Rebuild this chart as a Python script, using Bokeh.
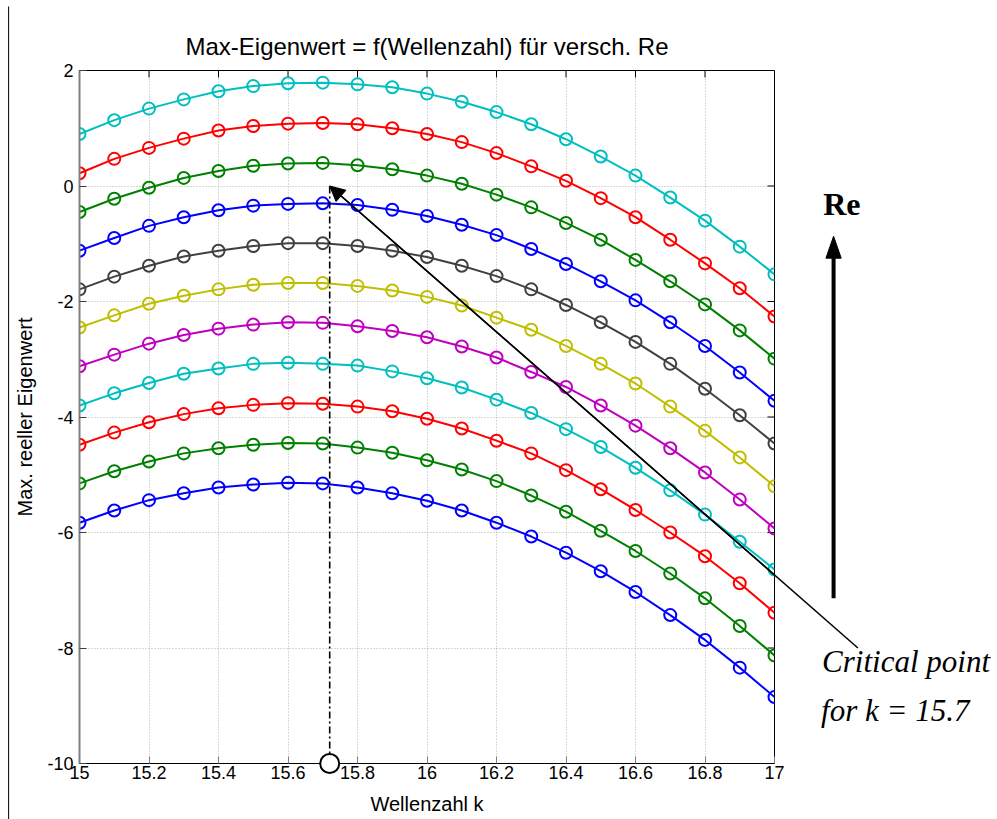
import math
from bokeh.plotting import figure
from bokeh.models import Arrow, NormalHead, FixedTicker, Range1d
from bokeh.core.properties import value
from bokeh.embed import file_html
from bokeh.resources import INLINE

# ---------------- data ----------------
k = [15.0, 15.1, 15.2, 15.3, 15.4, 15.5, 15.6, 15.7, 15.8, 15.9, 16.0,
     16.1, 16.2, 16.3, 16.4, 16.5, 16.6, 16.7, 16.8, 16.9, 17.0]

# max. real eigenvalue per Re (lowest Re first)
eig_1 = [-5.83, -5.62, -5.44, -5.32, -5.22, -5.17, -5.14, -5.15, -5.22, -5.32, -5.45,
         -5.62, -5.83, -6.07, -6.35, -6.67, -7.03, -7.43, -7.86, -8.34, -8.85]
eig_2 = [-5.15, -4.94, -4.77, -4.63, -4.54, -4.48, -4.45, -4.46, -4.53, -4.62, -4.75,
         -4.91, -5.11, -5.36, -5.64, -5.97, -6.32, -6.71, -7.14, -7.62, -8.13]
eig_3 = [-4.48, -4.27, -4.09, -3.95, -3.85, -3.79, -3.76, -3.77, -3.82, -3.90, -4.03,
         -4.20, -4.41, -4.63, -4.92, -5.25, -5.61, -6.00, -6.41, -6.88, -7.39]
eig_4 = [-3.80, -3.59, -3.41, -3.25, -3.16, -3.08, -3.06, -3.08, -3.11, -3.21, -3.33,
         -3.49, -3.70, -3.93, -4.21, -4.52, -4.88, -5.27, -5.69, -6.16, -6.64]
eig_5 = [-3.12, -2.92, -2.73, -2.58, -2.47, -2.40, -2.36, -2.37, -2.43, -2.51, -2.62,
         -2.78, -2.97, -3.22, -3.48, -3.80, -4.15, -4.54, -4.96, -5.43, -5.93]
eig_6 = [-2.45, -2.24, -2.04, -1.90, -1.79, -1.71, -1.68, -1.68, -1.73, -1.81, -1.92,
         -2.07, -2.28, -2.49, -2.77, -3.08, -3.42, -3.82, -4.24, -4.70, -5.20]
eig_7 = [-1.79, -1.57, -1.38, -1.22, -1.12, -1.04, -0.99, -0.99, -1.04, -1.12, -1.23,
         -1.38, -1.56, -1.79, -2.06, -2.36, -2.70, -3.08, -3.51, -3.97, -4.46]
eig_8 = [-1.12, -0.90, -0.69, -0.54, -0.42, -0.34, -0.31, -0.30, -0.33, -0.41, -0.52,
         -0.67, -0.85, -1.09, -1.35, -1.65, -1.98, -2.36, -2.77, -3.23, -3.72]
eig_9 = [-0.45, -0.22, -0.03, 0.14, 0.26, 0.35, 0.39, 0.40, 0.36, 0.29, 0.18,
         0.04, -0.15, -0.37, -0.64, -0.93, -1.28, -1.65, -2.05, -2.50, -2.99]
eig_10 = [0.22, 0.47, 0.66, 0.82, 0.96, 1.04, 1.08, 1.09, 1.07, 1.00, 0.90,
          0.76, 0.57, 0.34, 0.09, -0.21, -0.54, -0.93, -1.34, -1.77, -2.26]
eig_11 = [0.90, 1.14, 1.34, 1.50, 1.64, 1.73, 1.78, 1.79, 1.76, 1.71, 1.60,
          1.46, 1.28, 1.07, 0.81, 0.51, 0.18, -0.20, -0.60, -1.05, -1.53]

series = [eig_1, eig_2, eig_3, eig_4, eig_5, eig_6, eig_7, eig_8, eig_9, eig_10, eig_11]
colors = ["#0000ff", "#008000", "#ff0000", "#00bfbf", "#bf00bf", "#bfbf00", "#404040",
          "#0000ff", "#008000", "#ff0000", "#00bfbf"]

x_ticks = [15, 15.2, 15.4, 15.6, 15.8, 16, 16.2, 16.4, 16.6, 16.8, 17]
x_tick_labels = ["15", "15.2", "15.4", "15.6", "15.8", "16", "16.2", "16.4", "16.6", "16.8", "17"]
y_ticks = [-10, -8, -6, -4, -2, 0, 2]
y_tick_labels = ["-10", "-8", "-6", "-4", "-2", "0", "2"]

k_crit = 15.72          # critical wave number
crit_eig = 0.0          # eigenvalue at the critical point

title_text = "Max-Eigenwert = f(Wellenzahl) für versch. Re"
x_label = "Wellenzahl k"
y_label = "Max. reeller Eigenwert"
re_text = "Re"
crit_lines = ["Critical point", "for k = 15.7"]

FONT = "Liberation Sans"
SERIF = "Liberation Serif"

# ---------------- figure ----------------
p = figure(width=997, height=819, x_range=Range1d(15, 17), y_range=Range1d(-10, 2),
           output_backend="svg", toolbar_location=None,
           min_border_left=79, min_border_right=223, min_border_top=70, min_border_bottom=56,
           background_fill_color="white", border_fill_color="white")
p.outline_line_color = "black"
p.outline_line_width = 1

p.title.text = title_text
p.title.align = "center"
p.title.text_font = FONT
p.title.text_font_size = "24px"
p.title.text_font_style = "normal"
p.title.text_color = "black"
p.title.standoff = 22

xt = FixedTicker(ticks=x_ticks)
yt = FixedTicker(ticks=y_ticks)

xa = p.xaxis[0]
xa.ticker = xt
xa.major_label_overrides = {t: s for t, s in zip(x_ticks, x_tick_labels)}
ya = p.yaxis[0]
ya.ticker = yt
ya.major_label_overrides = {t: s for t, s in zip(y_ticks, y_tick_labels)}

for ax in (xa, ya):
    ax.major_tick_in = 7
    ax.major_tick_out = 0
    ax.minor_tick_line_color = None
    ax.major_label_text_font = FONT
    ax.major_label_text_font_size = "18px"
    ax.major_label_text_color = "black"
    ax.axis_label_text_font = FONT
    ax.axis_label_text_font_size = "20px"
    ax.axis_label_text_font_style = "normal"
    ax.axis_label_text_color = "black"

xa.axis_label = x_label
xa.axis_line_color = "black"
xa.major_tick_line_color = "#808080"
xa.major_label_standoff = 2
xa.axis_label_standoff = 11

ya.axis_label = y_label
ya.axis_line_color = "#808080"
ya.axis_line_width = 2
ya.major_tick_line_color = "#404040"
ya.major_label_standoff = 6
ya.axis_label_standoff = 8

for g, t in ((p.xgrid[0], xt), (p.ygrid[0], yt)):
    g.ticker = t
    g.grid_line_color = "#b3b3b3"
    g.grid_line_dash = "1 2"
    g.grid_line_width = 1

# mirrored inward ticks on the top and right box edges
p.ray(x=x_ticks, y=[2] * len(x_ticks), length=7, length_units="screen",
      angle=-math.pi / 2, line_color="black", line_width=1)
p.ray(x=[17] * len(y_ticks), y=y_ticks, length=7, length_units="screen",
      angle=math.pi, line_color="black", line_width=1)

# ---------------- curves ----------------
for ys, c in zip(series, colors):
    p.line(k, ys, line_color=c, line_width=2)
    p.scatter(k, ys, marker="circle", size=12, fill_color=None, line_color=c, line_width=2)

# ---------------- annotations ----------------
# critical wave number marker
p.segment(x0=[k_crit], y0=[-10], x1=[k_crit], y1=[crit_eig], line_color="black",
          line_width=1.6, line_dash="7 3 2 3")
p.scatter([k_crit], [-10], marker="circle", size=19, fill_color="white",
          line_color="black", line_width=2, level="overlay")

# arrow pointing at the critical point (body reaches outside the axes box)
p.segment(x0=[17.24], y0=[-8.0], x1=[k_crit], y1=[crit_eig], line_color="black",
          line_width=1.5, level="overlay")
p.add_layout(Arrow(end=NormalHead(size=15, fill_color="black", line_color="black"),
                   x_start=17.24, y_start=-8.0, x_end=k_crit, y_end=crit_eig,
                   line_color="black", line_width=1.5))

# "Re" increasing arrow (outside the axes box)
re_x, re_y0, re_tip = 17.17, -7.14, -0.87
head_half_w, head_len = 0.022, 0.38     # in data units
p.segment(x0=[re_x], y0=[re_y0], x1=[re_x], y1=[re_tip - head_len + 0.05], line_color="black",
          line_width=4, level="overlay")
p.patch(x=[re_x, re_x - head_half_w, re_x + head_half_w],
        y=[re_tip, re_tip - head_len, re_tip - head_len],
        fill_color="black", line_color="black", line_width=1, level="overlay")

p.text(x=[17.14], y=[-0.31], text=[re_text], text_font=value(SERIF),
       text_font_size="32px", text_font_style="bold", text_color="black",
       text_baseline="alphabetic", text_align="left", level="overlay")
p.text(x=[17.137, 17.134], y=[-8.236, -9.084], text=crit_lines, text_font=value(SERIF),
       text_font_size="31px", text_font_style="italic", text_color="black",
       text_baseline="alphabetic", text_align="left", level="overlay")

# left frame line of the page
p.segment(x0=[14.796], y0=[3.108], x1=[14.796], y1=[-10.97], line_color="black",
          line_width=1, level="overlay")

open("out.html", "w").write(file_html(p, INLINE))
